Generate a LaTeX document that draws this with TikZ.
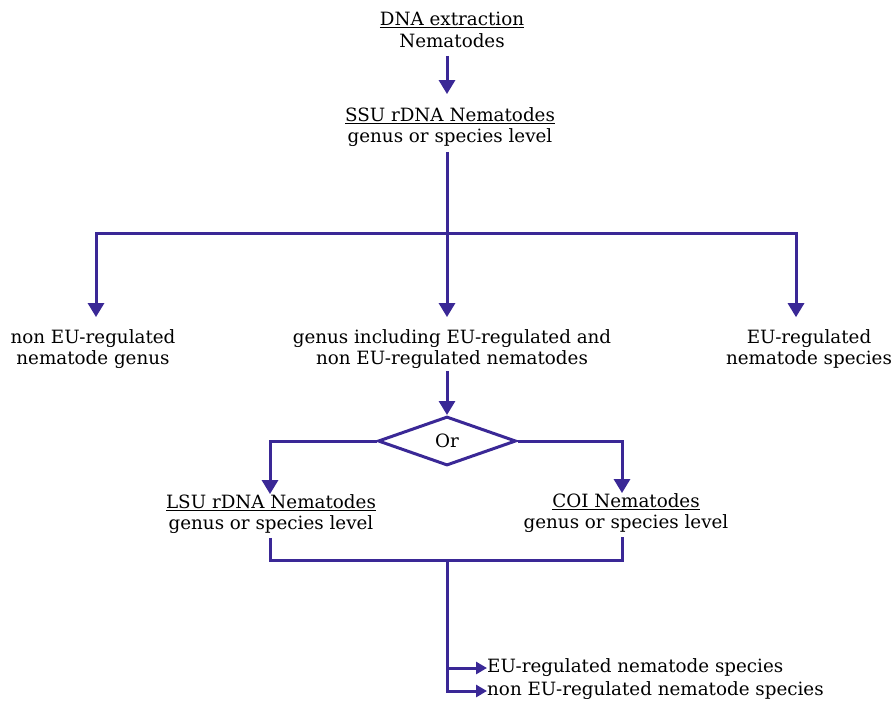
\documentclass[tikz,border=0pt]{standalone}
\usepackage{fontspec}
\setmainfont{DejaVu Serif}
\usetikzlibrary{arrows.meta,shapes.geometric,calc}
\definecolor{ink}{RGB}{58,40,150}
\tikzset{
  lbl/.style={align=center,inner sep=0pt,font=\fontsize{18.3}{21.5}\selectfont},
  conn/.style={draw=ink,line width=3pt},
  arr/.style={conn,-{Triangle[width=16pt,length=14pt]}},
  sarr/.style={conn,-{Triangle[width=12pt,length=11pt]}},
  choice/.style={shape=diamond,draw=ink,line width=3pt,minimum width=138pt,minimum height=49pt,inner sep=0pt,aspect=2.8,font=\fontsize{18.3}{21.5}\selectfont}
}
\begin{document}
\begin{tikzpicture}[x=1pt,y=-1pt]
\useasboundingbox (0,0) rectangle (894,705);
\node[lbl] (dna) at (452,30) {\underline{DNA extraction}\\Nematodes};
\node[lbl] (ssu) at (450,127) {\underline{SSU rDNA Nematodes}\\genus or species level};
\node[lbl] (left) at (93,349) {non EU-regulated\\nematode genus};
\node[lbl] (mid) at (452,349) {genus including EU-regulated and\\non EU-regulated nematodes};
\node[lbl] (right) at (809,349) {EU-regulated\\nematode species};
\node[choice] (or) at (447,441) {Or};
\node[lbl] (lsu) at (271,514) {\underline{LSU rDNA Nematodes}\\genus or species level};
\node[lbl] (coi) at (626,513) {\underline{COI Nematodes}\\genus or species level};
\node[lbl,anchor=west] (eu) at (487,668) {EU-regulated nematode species};
\node[lbl,anchor=west] (neu) at (487,691) {non EU-regulated nematode species};
\coordinate (split) at (447,233);
\coordinate (join) at (447,560);
\coordinate (lft) at (96,0);
\coordinate (rgt) at (796,0);
\coordinate (lb) at (270,0);
\coordinate (rb) at (622,0);

\draw[arr,shorten <=8pt,shorten >=13pt] (dna.south -| split) -- (ssu.north -| split);
\draw[conn,shorten <=5pt] (ssu.south -| split) -- (split);
\draw[arr,shorten >=12pt] (split) -| (left.north -| lft);
\draw[arr,shorten >=12pt] (split) -- (mid.north -| split);
\draw[arr,shorten >=12pt] (split) -| (right.north -| rgt);
\draw[arr,shorten <=2pt] (mid.south -| or.north) -- (or.north);
\draw[arr] (or.west) -| (lsu.north -| lb);
\draw[arr] (or.east) -| (coi.north -| rb);
\draw[conn] ([yshift=-4pt]lsu.south -| lb) |- (join) -| ([yshift=-4pt]coi.south -| rb);
\draw[sarr] (join) |- (eu.west);
\draw[sarr] (join) |- (neu.west);
\end{tikzpicture}
\end{document}
